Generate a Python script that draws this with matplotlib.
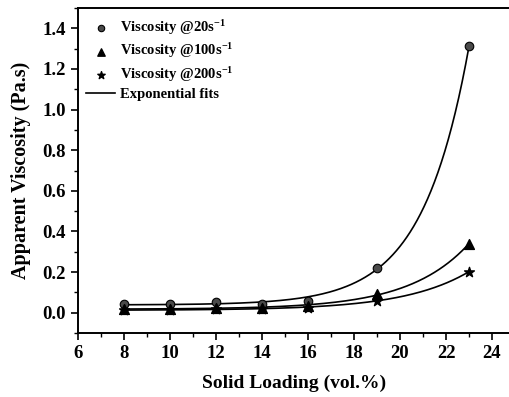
import numpy as np
import matplotlib
matplotlib.use("Agg")
import matplotlib.pyplot as plt
from matplotlib.ticker import MultipleLocator

plt.rcParams['font.family'] = ['Liberation Serif', 'DejaVu Serif']
plt.rcParams['font.weight'] = 'bold'
plt.rcParams['mathtext.fontset'] = 'custom'
plt.rcParams['mathtext.rm'] = 'Liberation Serif:bold'
plt.rcParams['mathtext.bf'] = 'Liberation Serif:bold'
plt.rcParams['mathtext.it'] = 'Liberation Serif:bold'
plt.rcParams['mathtext.default'] = 'bf'

loading = [8, 10, 12, 14, 16, 19, 23]
visc_20 = [0.045, 0.045, 0.052, 0.045, 0.060, 0.222, 1.312]
visc_100 = [0.020, 0.020, 0.024, 0.025, 0.033, 0.090, 0.340]
visc_200 = [0.014, 0.014, 0.016, 0.020, 0.025, 0.060, 0.202]

labels = [r"Viscosity @20s$^{-1}$", r"Viscosity @100s$^{-1}$",
          r"Viscosity @200s$^{-1}$", "Exponential fits"]


def exp_fit(x, y):
    x = np.asarray(x, float); y = np.asarray(y, float)
    best = None
    for t in np.linspace(0.5, 10, 2000):
        M = np.column_stack([np.ones_like(x), np.exp(x / t)])
        coef, *_ = np.linalg.lstsq(M, y, rcond=None)
        r = np.sum((M @ coef - y) ** 2)
        if best is None or r < best[0]:
            best = (r, t, coef)
    _, t, coef = best
    return lambda xx: coef[0] + coef[1] * np.exp(xx / t)


fig = plt.figure(figsize=(5.10, 3.97), dpi=100)
ax = fig.add_axes([78/510, 1-333/397, 1-78/510, (333-8)/397])

xs = np.linspace(8, 23, 300)
for y in (visc_20, visc_100, visc_200):
    f = exp_fit(loading, y)
    ax.plot(xs, f(xs), color='black', lw=1.2, zorder=2)

h1 = ax.scatter(loading, visc_20, marker='o', s=38, facecolor='#4a4a4a',
                edgecolor='black', linewidth=0.8, zorder=3)
h2 = ax.scatter(loading, visc_100, marker='^', s=50, color='black', zorder=3)
h3 = ax.scatter(loading, visc_200, marker='*', s=55, color='black', zorder=3)
h4, = ax.plot([], [], color='black', lw=1.2)

ax.set_xlim(6, 24.78)
ax.set_ylim(-0.1, 1.5)
ax.xaxis.set_major_locator(MultipleLocator(2))
ax.xaxis.set_minor_locator(MultipleLocator(1))
ax.yaxis.set_major_locator(MultipleLocator(0.2))
ax.yaxis.set_minor_locator(MultipleLocator(0.1))
ax.yaxis.set_major_formatter(matplotlib.ticker.FormatStrFormatter('%.1f'))
ax.tick_params(which='major', direction='out', length=5, width=1.2,
               labelsize=13.5, pad=4)
ax.tick_params(which='minor', direction='out', length=3, width=1.0)
for lab in ax.get_xticklabels() + ax.get_yticklabels():
    lab.set_fontweight('bold')
for s in ax.spines.values():
    s.set_linewidth(1.4)
ax.spines['right'].set_visible(False)

ax.set_xlabel("Solid Loading (vol.%)", fontsize=14, fontweight='bold', labelpad=9)
ax.set_ylabel("Apparent Viscosity (Pa.s)", fontsize=14.5, fontweight='bold', labelpad=8)

leg = ax.legend([h1, h2, h3, h4], labels, loc='upper left', frameon=False,
                handlelength=2.0, handletextpad=0.3, markerscale=0.75,
                labelspacing=0.3, borderaxespad=0.3, bbox_to_anchor=(-0.005, 1.0),
                prop={'weight': 'bold', 'size': 10.5})

fig.savefig("out.png", dpi=100)
